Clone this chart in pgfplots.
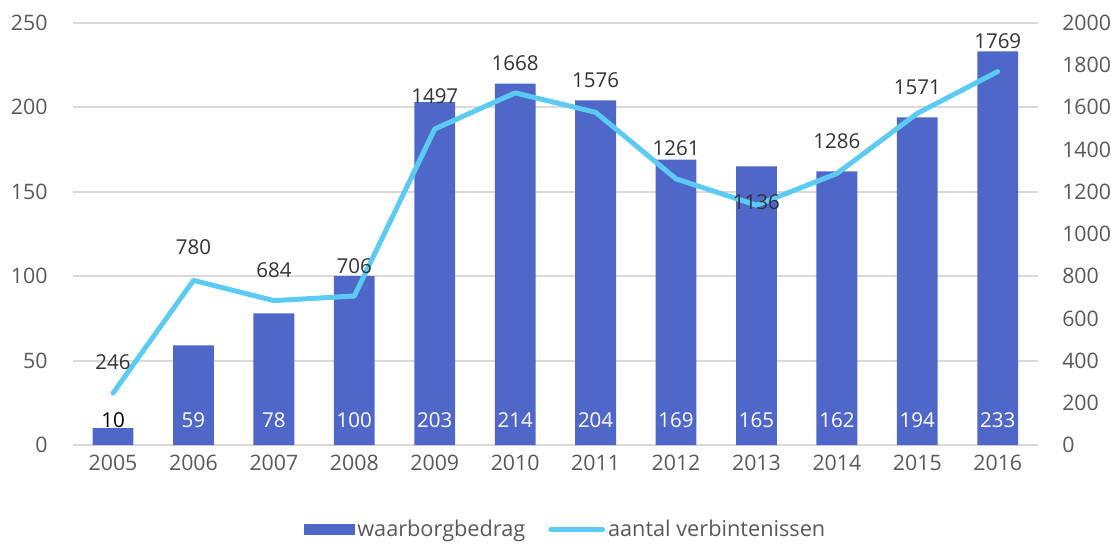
\documentclass[border=0pt]{standalone}
\usepackage{pgfplots}
\usepackage{pgfplotstable}
\pgfplotsset{compat=1.18}
\usepackage{fontspec}
\setmainfont{Open Sans}
\definecolor{barblue}{HTML}{4F67C9}
\definecolor{lineblue}{HTML}{5BCBF3}
\definecolor{ticktext}{HTML}{595959}
\definecolor{labeltext}{HTML}{333333}
\definecolor{gridgray}{HTML}{D9D9D9}

\pgfplotstableread{
x year bedrag aantal off zero
0  2005 10  246  15.5 0
1  2006 59  780  16.5 0
2  2007 78  684  15.5 0
3  2008 100 706  15   0
4  2009 203 1497 16.5 0
5  2010 214 1668 15   0
6  2011 204 1576 16   0
7  2012 169 1261 15.5 0
8  2013 165 1136 1.5  0
9  2014 162 1286 16.5 0
10 2015 194 1571 13   0
11 2016 233 1769 15.5 0
}\data

\pgfplotsset{
  /pgf/number format/1000 sep={},
  every axis/.append style={
    scale only axis, width=484.5pt, height=212pt,
    xmin=-0.5, xmax=11.5,
    axis line style={draw=none},
    major tick style={draw=none},
    ticklabel style={text=ticktext, font=\fontsize{10.7}{12}\selectfont},
    /pgf/number format/assume math mode=true,
  },
}

\begin{document}
\begin{tikzpicture}[font=\fontsize{10.3}{12}\selectfont]
\begin{axis}[
  ymin=0, ymax=250,
  ytick={0,50,...,250},
  xtick={0,...,11},
  xticklabels={2005,2006,2007,2008,2009,2010,2011,2012,2013,2014,2015,2016},
  ymajorgrids,
  grid style={gridgray, line width=1pt},
  yticklabel style={inner sep=0pt, xshift=-12.5pt},
  xticklabel style={inner sep=0pt, yshift=-5pt},
]
  \addplot[ybar, bar width=20.5pt, fill=barblue, draw=none]
    table[x=x, y=bedrag]{\data};
  % labels at the bar base
  \addplot[draw=none, mark=none, nodes near coords, point meta=explicit,
    skip coords between index={0}{1},
    every node near coord/.style={anchor=center, yshift=12.5pt, text=white}]
    table[x=x, y=zero, meta=bedrag]{\data};
  \addplot[draw=none, mark=none, nodes near coords, point meta=explicit,
    skip coords between index={1}{12},
    every node near coord/.style={anchor=center, yshift=12.5pt, text=black}]
    table[x=x, y=zero, meta=bedrag]{\data};
\end{axis}
\begin{axis}[
  ymin=0, ymax=2000,
  ytick={0,200,...,2000},
  axis y line*=right,
  hide x axis,
  yticklabel style={inner sep=0pt, xshift=12pt},
  legend style={at={(0.511,-0.2)}, anchor=center, draw=none, fill=none,
    legend columns=2, text=ticktext,
    font=\fontsize{10.9}{12}\selectfont,
    nodes={inner sep=1.5pt},
    /tikz/every even column/.append style={column sep=10pt}},
]
  \addlegendimage{legend image code/.code={\fill[barblue] (0pt,-2.6pt) rectangle (25pt,2.6pt);}}
  \addlegendentry{waarborgbedrag}
  \addplot[lineblue, line width=2.5pt, line cap=round, line join=round,
    nodes near coords, point meta=explicit,
    visualization depends on={\thisrow{off} \as \myoff},
    every node near coord/.style={anchor=center, yshift=\myoff pt, text=labeltext},
    legend image code/.code={\draw[lineblue, line width=2.5pt, line cap=round] (0pt,0pt) -- (26pt,0pt);}]
    table[x=x, y=aantal, meta=aantal]{\data};
  \addlegendentry{aantal verbintenissen}
\end{axis}
% white margin on the left and top, as in the reference
\path ([xshift=-5.5pt, yshift=7.5pt]current bounding box.north west);
\end{tikzpicture}
\end{document}
